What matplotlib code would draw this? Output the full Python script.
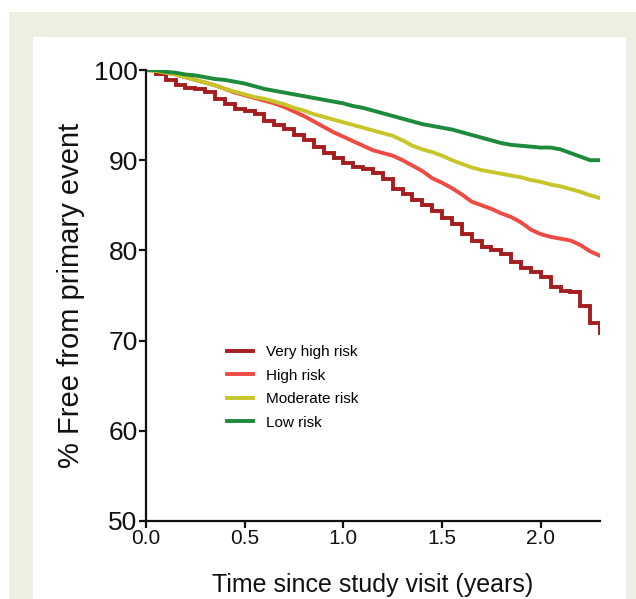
import matplotlib
matplotlib.use("Agg")
import matplotlib.pyplot as plt
from matplotlib.patches import Rectangle

plt.rcParams["font.family"] = ["Liberation Sans", "DejaVu Sans"]

# Kaplan-Meier style survival estimates (% free from event)
time_years = [0.00, 0.05, 0.10, 0.15, 0.20, 0.25, 0.30, 0.35, 0.40, 0.45,
              0.50, 0.55, 0.60, 0.65, 0.70, 0.75, 0.80, 0.85, 0.90, 0.95,
              1.00, 1.05, 1.10, 1.15, 1.20, 1.25, 1.30, 1.35, 1.40, 1.45,
              1.50, 1.55, 1.60, 1.65, 1.70, 1.75, 1.80, 1.85, 1.90, 1.95,
              2.00, 2.05, 2.10, 2.15, 2.20, 2.25, 2.30]

very_high = [100.0, 99.6, 98.9, 98.3, 98.0, 97.9, 97.6, 96.8, 96.2, 95.7,
             95.4, 95.1, 94.4, 93.9, 93.5, 92.8, 92.2, 91.5, 90.8, 90.2,
             89.7, 89.3, 89.0, 88.6, 87.9, 86.8, 86.2, 85.6, 85.0, 84.4,
             83.6, 82.9, 81.8, 81.0, 80.4, 80.0, 79.6, 78.7, 78.0, 77.6,
             77.1, 75.9, 75.5, 75.4, 73.8, 72.0, 70.8]

high = [100.0, 99.9, 99.7, 99.5, 99.2, 98.9, 98.6, 98.3, 97.9, 97.5,
        97.2, 96.9, 96.6, 96.3, 95.9, 95.4, 94.9, 94.3, 93.7, 93.1,
        92.6, 92.1, 91.6, 91.1, 90.8, 90.5, 90.0, 89.4, 88.8, 88.0,
        87.5, 86.9, 86.2, 85.4, 85.0, 84.6, 84.1, 83.7, 83.1, 82.3,
        81.8, 81.5, 81.3, 81.1, 80.6, 79.9, 79.4]

moderate = [100.0, 99.9, 99.7, 99.5, 99.2, 98.9, 98.6, 98.3, 97.9, 97.6,
            97.3, 97.0, 96.8, 96.5, 96.2, 95.8, 95.5, 95.1, 94.8, 94.5,
            94.2, 93.9, 93.6, 93.3, 93.0, 92.7, 92.2, 91.6, 91.2, 90.9,
            90.5, 90.0, 89.6, 89.2, 88.9, 88.7, 88.5, 88.3, 88.1, 87.8,
            87.6, 87.3, 87.1, 86.8, 86.5, 86.1, 85.8]

low = [100.0, 100.0, 99.8, 99.7, 99.5, 99.4, 99.2, 99.0, 98.9, 98.7,
       98.5, 98.2, 97.9, 97.7, 97.5, 97.3, 97.1, 96.9, 96.7, 96.5,
       96.3, 96.0, 95.8, 95.5, 95.2, 94.9, 94.6, 94.3, 94.0, 93.8,
       93.6, 93.4, 93.1, 92.8, 92.5, 92.2, 91.9, 91.7, 91.6, 91.5,
       91.4, 91.4, 91.2, 90.8, 90.4, 90.0, 90.0]

labels = ["Very high risk", "High risk", "Moderate risk", "Low risk"]
colors = ["#a51d1f", "#ef4a44", "#c6c62a", "#1d8a3c"]
series = [very_high, high, moderate, low]
# the very-high-risk group has few patients, so its steps are clearly visible
draw_styles = ["steps-post", "default", "default", "default"]

W, H = 636, 599
fig = plt.figure(figsize=(W / 100, H / 100), dpi=100)
fig.patch.set_facecolor("white")

# beige journal panel with white inner card
fig.patches.append(Rectangle((9 / W, 0), 1 - 9 / W, 1 - 12 / H,
                             transform=fig.transFigure, facecolor="#efeee3",
                             edgecolor="none", zorder=-2))
fig.patches.append(Rectangle((33 / W, 0), (626 - 33) / W, 1 - 37 / H,
                             transform=fig.transFigure, facecolor="white",
                             edgecolor="none", zorder=-1))

ax = fig.add_axes([146 / W, 1 - 521 / H, (600 - 146) / W, (521 - 70) / H])
ax.set_facecolor("none")

for vals, lab, col, ds in zip(series, labels, colors, draw_styles):
    ax.plot(time_years, vals, color=col, lw=2.8, label=lab,
            drawstyle=ds, solid_joinstyle="miter")

ax.set_xlim(0, 2.3)
ax.set_ylim(50, 100)
ax.set_xticks([0.0, 0.5, 1.0, 1.5, 2.0])
ax.set_xticklabels(["0.0", "0.5", "1.0", "1.5", "2.0"])
ax.set_yticks([50, 60, 70, 80, 90, 100])

for side in ["top", "right"]:
    ax.spines[side].set_visible(False)
for side in ["left", "bottom"]:
    ax.spines[side].set_linewidth(1.6)
    ax.spines[side].set_color("#111111")

ax.tick_params(axis="y", direction="out", length=5, width=1.6,
               labelsize=19, pad=1, colors="#111111")
ax.tick_params(axis="x", direction="out", length=5, width=1.6,
               labelsize=15, pad=1, colors="#111111")

ax.set_xlabel("Time since study visit (years)", fontsize=18,
              labelpad=18, color="#111111")
ax.set_ylabel("% Free from primary event", fontsize=21,
              labelpad=6, color="#111111")

ax.legend(loc="upper left", bbox_to_anchor=(0.178, 0.39), frameon=False,
          fontsize=11, handlelength=1.7, handletextpad=0.85,
          labelspacing=0.62, borderpad=0, borderaxespad=0)

fig.savefig("out.png", dpi=100)
